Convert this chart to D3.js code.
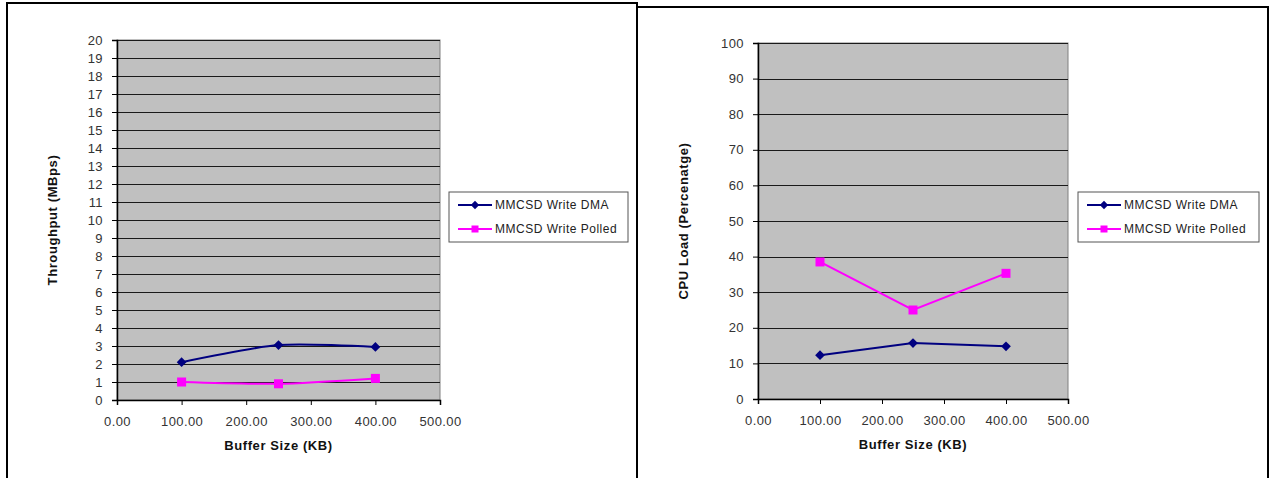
<!DOCTYPE html>
<html>
<head>
<meta charset="utf-8">
<script src="https://cdn.jsdelivr.net/npm/d3@7"></script>
<style>
  body { margin: 0; background: #fff; }
  svg { display: block; font-family: "Liberation Sans", Arial, sans-serif; }
</style>
</head>
<body>
<svg width="1270" height="478"></svg>
<script>
// data
const bufferSizes = [100, 250, 400];
const seriesNames = ["MMCSD Write DMA", "MMCSD Write Polled"];
const tputDma = [2.1, 3.05, 2.95];
const tputPolled = [1.0, 0.9, 1.2];
const cpuDma = [12.3, 15.7, 14.8];
const cpuPolled = [38.5, 25.0, 35.3];
const xTicks = [0, 100, 200, 300, 400, 500];
const tputTicks = d3.range(0, 21, 1);
const cpuTicks = d3.range(0, 101, 10);

const colors = ["#000080", "#ff00ff"];

let svg = d3.select("svg");

// panel frames
svg.append("path").attr("d", "M7,480V3H637V480").attr("fill", "none").attr("stroke", "#000").attr("stroke-width", 2);
svg.append("path").attr("d", "M637,480V7H1268V480").attr("fill", "none").attr("stroke", "#000").attr("stroke-width", 2);

function drawChart(opt) {
    let g = svg.append("g");
    let x = d3.scaleLinear().domain([0, 500]).range([opt.left, opt.right]);
    let y = d3.scaleLinear().domain([0, opt.yMax]).range([opt.bottom, opt.top]);

    g.append("rect")
        .attr("x", opt.left).attr("y", opt.top)
        .attr("width", opt.right - opt.left).attr("height", opt.bottom - opt.top)
        .attr("fill", "#c0c0c0").attr("stroke", "#808080");

    // gridlines
    g.selectAll(".grid").data(opt.yTicks.slice(1)).enter().append("line")
        .attr("x1", opt.left).attr("x2", opt.right)
        .attr("y1", d => Math.round(y(d)) + 0.5).attr("y2", d => Math.round(y(d)) + 0.5)
        .attr("stroke", "#1a1a1a");

    let yAxis = g.append("g").attr("transform", "translate(" + opt.left + ",0)")
        .call(d3.axisLeft(y).tickValues(opt.yTicks).tickFormat(d3.format("d")).tickSize(5).tickPadding(9));
    let xAxis = g.append("g").attr("transform", "translate(0," + opt.bottom + ")")
        .call(d3.axisBottom(x).tickValues(xTicks).tickFormat(d3.format(".2f")).tickSize(5).tickPadding(12));
    [yAxis, xAxis].forEach(a => {
        a.select(".domain").attr("stroke", "#000").attr("stroke-width", 1.5);
        a.selectAll(".tick line").attr("stroke", "#000");
        a.selectAll("text").attr("fill", "#333").attr("font-size", 13)
            .attr("letter-spacing", "0.4px")
            .attr("font-family", "Liberation Sans, Arial, sans-serif");
    });

    g.append("text")
        .attr("transform", "translate(" + opt.yTitleX + "," + ((opt.top + opt.bottom) / 2) + ")rotate(-90)")
        .attr("text-anchor", "middle").attr("dy", "0.35em")
        .attr("font-size", 13).attr("font-weight", "bold").attr("fill", "#111")
        .attr("letter-spacing", "0.6px")
        .text(opt.yTitle);
    g.append("text")
        .attr("x", (opt.left + opt.right) / 2).attr("y", opt.bottom + 45)
        .attr("text-anchor", "middle").attr("dy", "0.35em")
        .attr("font-size", 13).attr("font-weight", "bold").attr("fill", "#111")
        .attr("letter-spacing", "0.6px")
        .text("Buffer Size (KB)");

    let line = d3.line()
        .x((d, i) => x(bufferSizes[i]))
        .y(d => y(d))
        .curve(opt.smooth ? d3.curveCardinal.tension(0.3) : d3.curveLinear);

    let diamond = d3.symbol().type(d3.symbolDiamond2).size(60);

    opt.series.forEach(function (vals, s) {
        g.append("path").datum(vals)
            .attr("d", line).attr("fill", "none")
            .attr("stroke", colors[s]).attr("stroke-width", 2);
        let pts = g.selectAll(".pt" + s).data(vals).enter();
        if (s === 0) {
            pts.append("path")
                .attr("d", diamond)
                .attr("transform", (d, i) => "translate(" + x(bufferSizes[i]) + "," + y(d) + ")")
                .attr("fill", colors[s]);
        } else {
            pts.append("rect")
                .attr("x", (d, i) => x(bufferSizes[i]) - 4.5).attr("y", d => y(d) - 4.5)
                .attr("width", 9).attr("height", 9)
                .attr("fill", colors[s]);
        }
    });

    // legend
    let lg = g.append("g").attr("transform", "translate(" + opt.legendX + ",192)");
    lg.append("rect").attr("width", opt.legendW).attr("height", 50)
        .attr("fill", "#fff").attr("stroke", "#555");
    seriesNames.forEach(function (name, s) {
        let ly = 13 + s * 24;
        lg.append("line").attr("x1", 9).attr("x2", 43).attr("y1", ly).attr("y2", ly)
            .attr("stroke", colors[s]).attr("stroke-width", 2);
        if (s === 0) {
            lg.append("path").attr("d", d3.symbol().type(d3.symbolDiamond2).size(45))
                .attr("transform", "translate(26," + ly + ")").attr("fill", colors[s]);
        } else {
            lg.append("rect").attr("x", 22.5).attr("y", ly - 3.5).attr("width", 7).attr("height", 7)
                .attr("fill", colors[s]);
        }
        lg.append("text").attr("x", 46).attr("y", ly).attr("dy", "0.35em")
            .attr("font-size", 12).attr("fill", "#222").attr("letter-spacing", "0.5px")
            .text(name);
    });
}

drawChart({
    left: 117, right: 440, top: 40, bottom: 400, yMax: 20, yTicks: tputTicks,
    yTitle: "Throughput (MBps)", yTitleX: 52, series: [tputDma, tputPolled], smooth: true,
    legendX: 449, legendW: 179
});
drawChart({
    left: 758, right: 1068, top: 43, bottom: 399, yMax: 100, yTicks: cpuTicks,
    yTitle: "CPU Load (Percenatge)", yTitleX: 683, series: [cpuDma, cpuPolled], smooth: false,
    legendX: 1078, legendW: 181
});
</script>
</body>
</html>
